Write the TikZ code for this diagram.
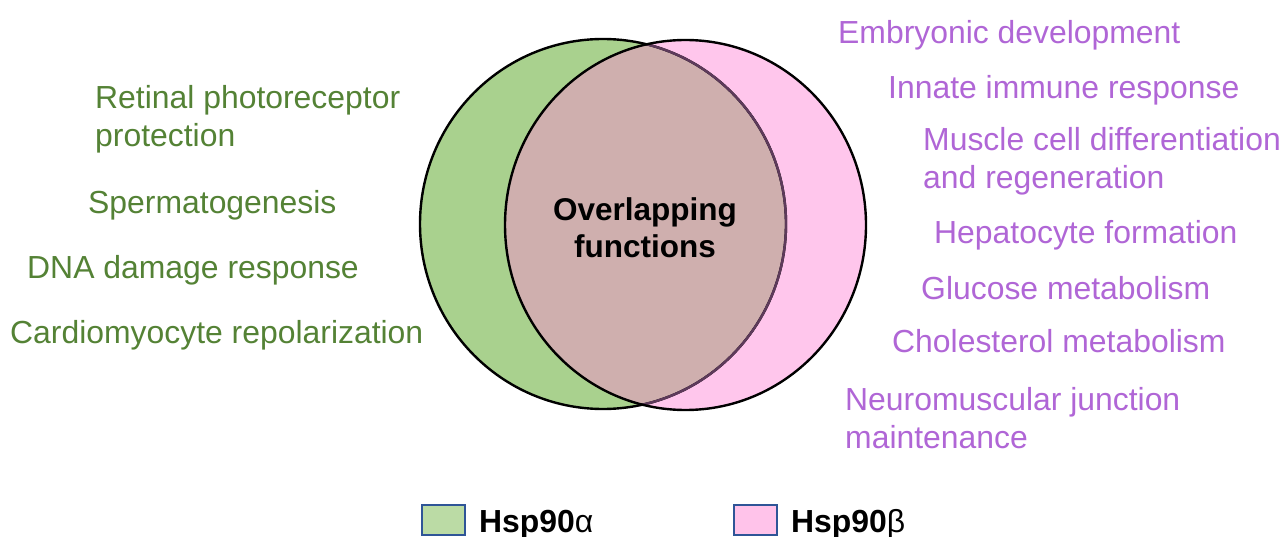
\documentclass[tikz,border=0pt]{standalone}
\usepackage{fontspec}
\setmainfont{Liberation Sans}
\definecolor{gfill}{HTML}{A9D18E}
\definecolor{pfill}{HTML}{FFC6EC}
\definecolor{ifill}{HTML}{CFAFAE}
\definecolor{lensarc}{HTML}{5E3A5B}
\definecolor{gtext}{HTML}{548235}
\definecolor{ptext}{HTML}{B066D6}
\definecolor{lgreen}{HTML}{BBDBA5}
\definecolor{lpink}{HTML}{FFC3EA}
\definecolor{lborder}{HTML}{2F5597}
\begin{document}
\begin{tikzpicture}[x=1pt,y=-1pt,
  lbl/.style={inner sep=0pt,anchor=base west,align=left,font=\fontsize{31.9}{38}\selectfont},
  glbl/.style={lbl,text=gtext},
  plbl/.style={lbl,text=ptext},
  legbox/.style={draw=lborder,line width=2pt,minimum width=43pt,minimum height=30pt,inner sep=0pt,anchor=north west},
  legtxt/.style={inner sep=0pt,anchor=base west,font=\fontsize{31.9}{38}\selectfont\bfseries},
  ring/.style={line width=2.4pt}]
\useasboundingbox (0,0) rectangle (1282,537);
% circles
\coordinate (ca) at (603,224);
\coordinate (cb) at (685.5,225);
\fill[gfill] (ca) ellipse [x radius=183, y radius=185];
\fill[pfill] (cb) ellipse [x radius=180.5, y radius=185];
\begin{scope}
  \clip (ca) ellipse [x radius=183, y radius=185];
  \fill[ifill] (cb) ellipse [x radius=180.5, y radius=185];
\end{scope}
\draw[ring,black] (ca) ellipse [x radius=183, y radius=185];
\begin{scope}
  \clip (cb) ellipse [x radius=180.5, y radius=185];
  \draw[ring,lensarc] (ca) ellipse [x radius=183, y radius=185];
\end{scope}
\draw[ring,black] (cb) ellipse [x radius=180.5, y radius=185];
% centre text
\node (ov) [inner sep=0pt,anchor=base,font=\fontsize{31.5}{37.5}\selectfont\bfseries] at (645,221) {Overlapping};
\node (fn) [inner sep=0pt,anchor=base,font=\fontsize{31.5}{37.5}\selectfont\bfseries] at (645,258) {functions};
% left labels (multi-line nodes: base = last line)
\node (g1) [glbl] at (95,146.5) {Retinal photoreceptor\\protection};
\node (g2) [glbl] at (88,214) {Spermatogenesis};
\node (g3) [glbl] at (27,279) {DNA damage response};
\node (g4) [glbl] at (10,343) {Cardiomyocyte repolarization};
% right labels
\node (p1) [plbl] at (838,44) {Embryonic development};
\node (p2) [plbl] at (888,99) {Innate immune response};
\node (p3) [plbl] at (923,189) {Muscle cell differentiation\\and regeneration};
\node (p4) [plbl] at (934,244) {Hepatocyte formation};
\node (p5) [plbl] at (921,299) {Glucose metabolism};
\node (p6) [plbl] at (892,352) {Cholesterol metabolism};
\node (p7) [plbl] at (845,448) {Neuromuscular junction\\maintenance};
% legend
\node (la) [legbox,fill=lgreen] at (421,504) {};
\node (lat) [legtxt] at (479,532) {Hsp90{\mdseries α}};
\node (lb) [legbox,fill=lpink] at (733,504) {};
\node (lbt) [legtxt] at (791,532) {Hsp90{\mdseries β}};
\end{tikzpicture}
\end{document}
